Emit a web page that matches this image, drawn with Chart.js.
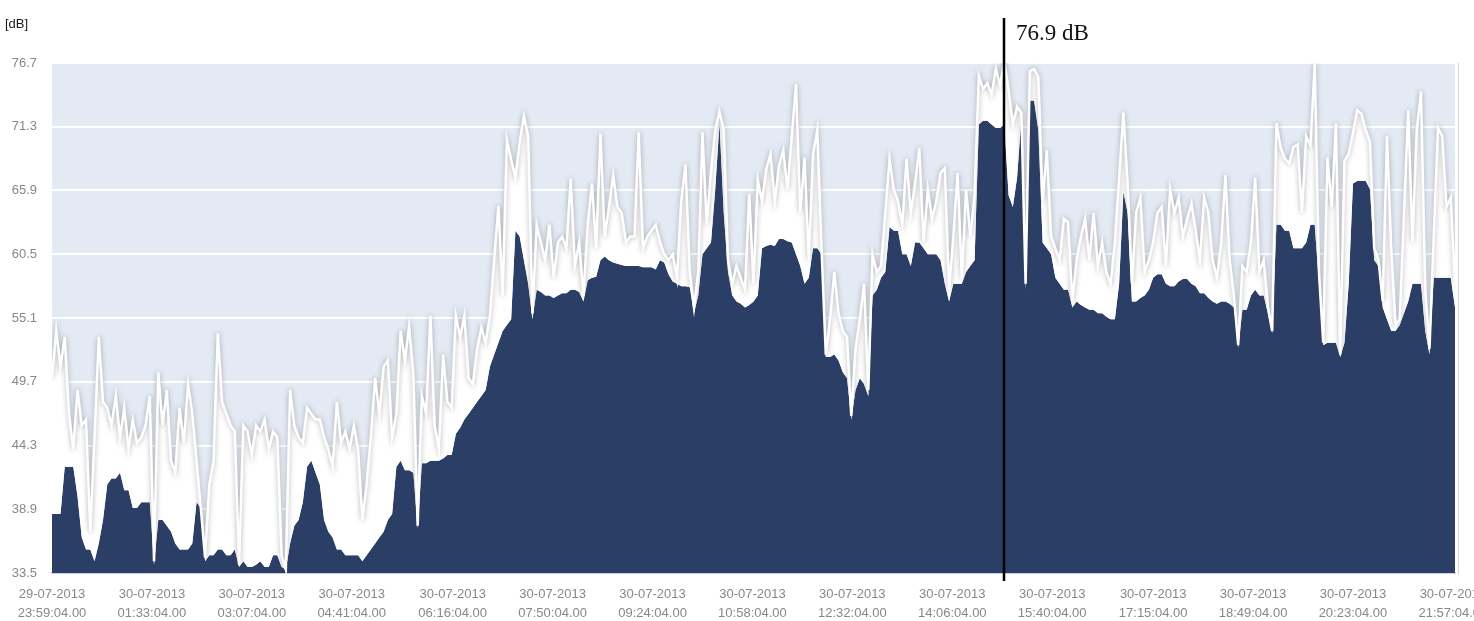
<!DOCTYPE html>
<html>
<head>
<meta charset="utf-8">
<title>dB</title>
<script src="https://cdn.jsdelivr.net/npm/chart.js@4/dist/chart.umd.min.js"></script>
<style>
    html, body { margin: 0; padding: 0; background: #ffffff; }
    #wrap { width: 1474px; height: 621px; }
</style>
</head>
<body>
<div id="wrap"><canvas id="noiseChart" width="1474" height="621"></canvas></div>
<script>
// 取樣間隔 (分鐘)，起點 29-07-2013 23:59:04
const sampleMinutes = 4;

// 每個取樣區間的最大值 (白線)
const levelMax = [
    50, 54, 51, 53.5, 47, 44, 49, 46, 46.5, 37,
    45, 53.5, 48, 47.5, 46, 48.5, 45, 47.5, 44, 46.5,
    44.5, 45, 46, 48.5, 34.5, 50.5, 46, 49, 43, 42,
    47.5, 44.5, 49.5, 47, 43, 39, 34.8, 41, 43, 53.8,
    48, 47, 46, 45.5, 34.2, 46, 45.5, 43.5, 46, 45.5,
    46.5, 44, 45.5, 45, 35, 33.8, 49, 46, 45, 44.5,
    47.5, 47, 46.5, 46.5, 45, 44, 42.5, 48, 44.5, 45.5,
    44, 46, 44, 38, 41, 45, 50, 47, 51, 51.5,
    45, 47, 54, 51.5, 54.4, 50.3, 37.5, 48.5, 47, 55.3,
    46, 44, 52, 48, 47.5, 55.3, 53.5, 55.3, 50, 49.5,
    52.5, 54.3, 53, 55.3, 60, 64.6, 57, 70.2, 68.5, 67,
    70, 72.2, 70.5, 55.5, 63, 61.5, 60, 63, 58.5, 61.5,
    62, 61, 66.9, 59.5, 61.5, 57, 63, 66.5, 61, 70.7,
    62, 64.5, 67.2, 64.5, 64, 61.5, 62, 62, 70.8, 61,
    62, 62.5, 63, 61.5, 60.5, 60, 60.5, 58.5, 65, 68.1,
    59, 56, 59, 70.8, 63, 67.5, 71, 72.6, 71, 60,
    58, 59.5, 58.5, 57.5, 65.6, 58, 66.8, 65, 67.7, 69,
    65, 68, 69.3, 66, 70.5, 74.9, 64, 68.7, 60, 69,
    71, 61, 52, 55, 59, 55.5, 54, 53.5, 46.8, 52.5,
    55, 58, 49, 60.5, 59, 59.5, 64, 68.6, 66, 65,
    63, 68.6, 64, 66.5, 69.5, 61.5, 66, 63.5, 65, 67.4,
    67.8, 57.5, 62, 67.4, 58.5, 66, 62, 65.5, 75.6, 74.5,
    75, 74, 76.2, 74.8, 76.9, 74.4, 71.5, 73, 72.5, 58,
    76, 76.2, 75.5, 65, 69.3, 62, 61, 60, 63.5, 63.2,
    56.5, 60, 62, 63.5, 60, 64, 59.5, 61.5, 59, 58,
    61.5, 67, 72.5, 66.5, 58, 64, 65.3, 59, 60, 61.5,
    64, 64.5, 59.5, 66, 64, 65.3, 62, 63.5, 64.8, 62.5,
    60, 65.3, 64, 60, 58.5, 61.5, 67.2, 60, 57, 52.8,
    59.5, 59, 61.5, 67, 59, 60, 56, 54, 71.6, 69.5,
    68.6, 68.2, 69.6, 69.8, 64, 70.5, 69.7, 76.7, 59, 53,
    68.7, 64.5, 71.6, 52, 68.4, 69, 70.8, 72.7, 72.4, 71,
    70, 61, 60, 56.5, 70.5, 61, 54.5, 55, 64, 72.7,
    61.5, 71, 74.3, 57.5, 52.5, 62, 71.2, 70.5, 64.5, 65.3,
    58
];

// 每個取樣區間的最小值 (深色面積)
const levelMin = [
    38.5, 38.5, 38.5, 42.5, 42.5, 42.5, 40, 36.5, 35.5, 35.5,
    34.5, 36, 38, 41, 41.5, 41.5, 42, 40.5, 40.5, 39,
    39, 39.5, 39.5, 39.5, 34.2, 38, 38, 37.5, 37, 36,
    35.5, 35.5, 35.5, 36, 39.5, 39, 34.5, 35, 35, 35.5,
    35.5, 35, 35, 35.5, 34, 34.5, 34, 34, 34.2, 34.5,
    34, 34, 35, 35, 34, 33.8, 36, 37.5, 38, 39.5,
    42.5, 43, 42, 41, 38, 37, 36.5, 35.5, 35.5, 35,
    35, 35, 35, 34.5, 35, 35.5, 36, 36.5, 37, 38,
    38.5, 42.5, 43, 42.2, 42.2, 42, 37.3, 42.8, 42.8, 43,
    43, 43, 43.2, 43.5, 43.5, 45.3, 45.8, 46.5, 47, 47.5,
    48, 48.5, 49, 51, 52, 53, 54, 54.5, 55, 62.5,
    62, 60, 58, 55, 57.5, 57.3, 57, 57, 56.8, 57,
    57.2, 57.2, 57.5, 57.5, 57.3, 56.5, 58.3, 58.5, 58.6, 60,
    60.3, 60, 59.8, 59.7, 59.6, 59.5, 59.5, 59.5, 59.5, 59.4,
    59.4, 59.4, 59.2, 60, 59.8, 58.8, 58.2, 58, 57.8, 57.8,
    57.7, 55.5, 57, 60.5, 61, 61.5, 66, 71.6, 64, 59,
    57, 56.5, 56.3, 56, 56.2, 56.5, 57, 61, 61.2, 61.3,
    61.2, 61.8, 61.8, 61.6, 61.5, 60.5, 59.5, 58, 58.5, 61,
    61, 60.5, 51.8, 51.8, 52, 51.5, 50.5, 50, 46.5, 49,
    50, 49.5, 48.5, 57, 57.5, 58.5, 59, 62.8, 62.5, 62.5,
    60.5, 60.5, 59.5, 61.5, 61.5, 61, 60.5, 60.5, 60.5, 60,
    58, 56.5, 58, 58, 58, 59, 59.5, 60, 71.5, 71.8,
    71.8, 71.5, 71.2, 71.2, 71.5, 65.5, 64.5, 67, 72, 57.5,
    73.5, 73.5, 71, 61.5, 61, 60.5, 58.5, 58, 57.5, 57.5,
    56, 56.5, 56.2, 56, 55.8, 55.8, 55.5, 55.5, 55.2, 55,
    55, 58, 65.8, 64, 56.5, 56.5, 56.8, 57, 57.5, 58.5,
    58.8, 58.8, 58, 57.8, 57.8, 58.2, 58.4, 58.4, 58, 57.8,
    57.2, 57.2, 56.8, 56.5, 56.3, 56.5, 56.5, 56.3, 56, 52.6,
    55.8, 55.8, 57, 57.5, 57, 57, 55.5, 53.8, 63, 63,
    62.5, 62.5, 61, 61, 61, 61.5, 63, 63, 58, 52.8,
    53, 53, 53, 51.8, 53, 58, 66.5, 66.7, 66.7, 66.7,
    66, 60, 59.5, 56, 55, 54, 54, 54.5, 55.5, 56.5,
    58, 58, 58, 54, 52, 58.5, 58.5, 58.5, 58.5, 58.5,
    56
];

// 刻度
const yTickValues = [33.5, 38.9, 44.3, 49.7, 55.1, 60.5, 65.9, 71.3, 76.7];
const xTickMinutes = [0, 94, 188, 282, 377, 471, 565, 659, 753, 847, 941, 1036, 1130, 1224, 1318];
const xTickDates = ['29-07-2013', '30-07-2013', '30-07-2013', '30-07-2013', '30-07-2013',
    '30-07-2013', '30-07-2013', '30-07-2013', '30-07-2013', '30-07-2013',
    '30-07-2013', '30-07-2013', '30-07-2013', '30-07-2013', '30-07-2013'];
const xTickTimes = ['23:59:04.00', '01:33:04.00', '03:07:04.00', '04:41:04.00', '06:16:04.00',
    '07:50:04.00', '09:24:04.00', '10:58:04.00', '12:32:04.00', '14:06:04.00',
    '15:40:04.00', '17:15:04.00', '18:49:04.00', '20:23:04.00', '21:57:04.00'];

// 游標
const cursorMinute = 896;
const cursorLabel = '76.9 dB';
const unitLabel = '[dB]';

const colors = {
    plotBg: '#e4eaf3',
    grid: '#ffffff',
    fill: '#2b3e66',
    line: '#ffffff',
    tick: '#888888'
};

const toPoints = arr => arr.map((v, i) => ({ x: i * sampleMinutes, y: v }));

// 繪圖區背景
const plotBackground = {
    id: 'plotBackground',
    beforeDraw(chart) {
        const { ctx, chartArea: a } = chart;
        ctx.save();
        ctx.fillStyle = colors.plotBg;
        ctx.fillRect(a.left, a.top, a.right - a.left, a.bottom - a.top);
        ctx.strokeStyle = '#d3d7dd';
        ctx.lineWidth = 1;
        ctx.beginPath();
        ctx.moveTo(a.right + 3.5, a.top);
        ctx.lineTo(a.right + 3.5, a.bottom + 2);
        ctx.stroke();
        ctx.restore();
    }
};

// 白線陰影
const lineGlow = {
    id: 'lineGlow',
    beforeDatasetDraw(chart, args) {
        if (args.index !== 0) return;
        const ctx = chart.ctx;
        ctx.save();
        ctx.shadowColor = 'rgba(70, 70, 80, 0.45)';
        ctx.shadowBlur = 5;
    },
    afterDatasetDraw(chart, args) {
        if (args.index !== 0) return;
        chart.ctx.restore();
    }
};

// 單位與游標
const cursorPlugin = {
    id: 'cursorPlugin',
    afterDraw(chart) {
        const { ctx, chartArea: a } = chart;
        const x = Math.round(chart.scales.x.getPixelForValue(cursorMinute));
        ctx.save();
        ctx.fillStyle = '#1a1a1a';
        ctx.font = '13px "Liberation Sans", Arial, sans-serif';
        ctx.textBaseline = 'alphabetic';
        ctx.fillText(unitLabel, 5, 28);

        ctx.strokeStyle = '#000000';
        ctx.lineWidth = 2.5;
        ctx.beginPath();
        ctx.moveTo(x, 18);
        ctx.lineTo(x, a.bottom + 8);
        ctx.stroke();

        ctx.fillStyle = '#111111';
        ctx.font = '23px "Liberation Serif", "Times New Roman", serif';
        ctx.fillText(cursorLabel, x + 12, 40);
        ctx.restore();
    }
};

new Chart(document.getElementById('noiseChart'), {
    type: 'line',
    data: {
        datasets: [{
            label: 'max',
            data: toPoints(levelMax),
            borderColor: colors.line,
            borderWidth: 2.5,
            backgroundColor: '#ffffff',
            fill: '+1',
            pointRadius: 0,
            tension: 0
        }, {
            label: 'min',
            data: toPoints(levelMin),
            borderWidth: 0,
            borderColor: colors.fill,
            backgroundColor: colors.fill,
            fill: 'start',
            pointRadius: 0,
            tension: 0
        }]
    },
    options: {
        responsive: false,
        devicePixelRatio: 1,
        animation: false,
        layout: { padding: { top: 63, right: 19, left: 0, bottom: 0 } },
        plugins: {
            legend: { display: false },
            tooltip: { enabled: false }
        },
        scales: {
            x: {
                type: 'linear',
                min: 0,
                max: 1320,
                grid: { display: false, drawTicks: false },
                border: { display: true, color: '#cdd2d9', width: 2 },
                afterBuildTicks: scale => {
                    scale.ticks = xTickMinutes.map(v => ({ value: v }));
                },
                afterFit: scale => {
                    scale.height = 48;
                    scale.paddingLeft = 0;
                    scale.paddingRight = 0;
                },
                ticks: {
                    autoSkip: false,
                    maxRotation: 0,
                    padding: 12,
                    color: colors.tick,
                    font: { family: '"Liberation Sans", Arial, sans-serif', size: 13, lineHeight: 1.45 },
                    callback: (value, index) => [xTickDates[index], xTickTimes[index]]
                }
            },
            y: {
                min: 33.5,
                max: 76.7,
                grid: { color: colors.grid, lineWidth: 2, drawTicks: false },
                border: { display: false },
                afterBuildTicks: scale => {
                    scale.ticks = yTickValues.map(v => ({ value: v }));
                },
                afterFit: scale => {
                    scale.width = 52;
                    scale.paddingTop = 0;
                    scale.paddingBottom = 0;
                },
                ticks: {
                    padding: 15,
                    color: colors.tick,
                    font: { family: '"Liberation Sans", Arial, sans-serif', size: 13 },
                    callback: value => value.toFixed(1)
                }
            }
        }
    },
    plugins: [plotBackground, lineGlow, cursorPlugin]
});
</script>
</body>
</html>
